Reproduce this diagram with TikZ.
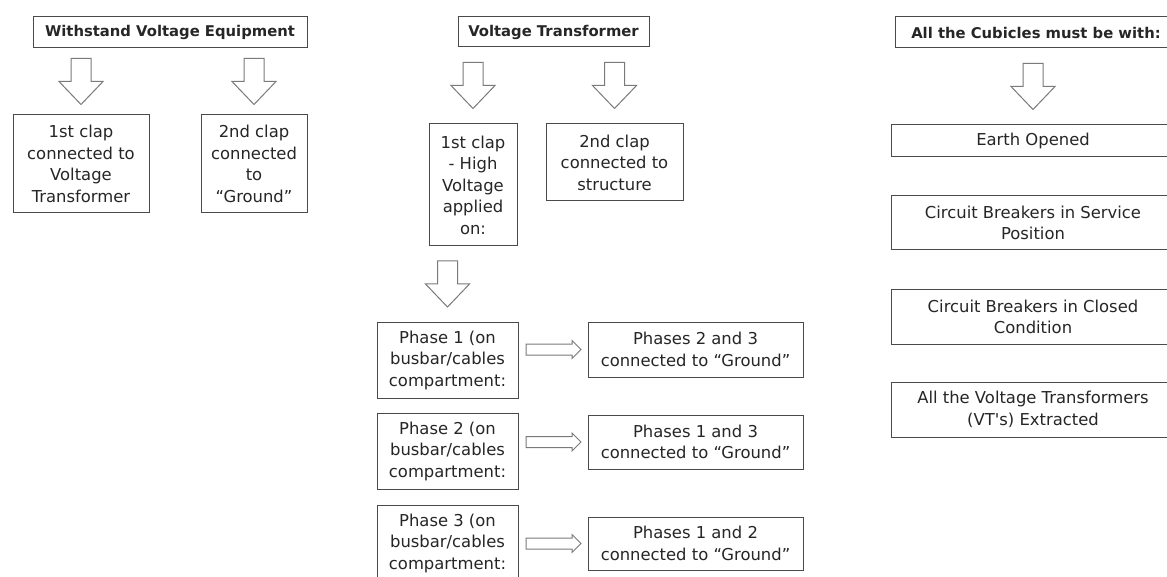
\documentclass[tikz,border=0pt]{standalone}
\usepackage{fontspec}
\setmainfont{DejaVu Sans}
\usetikzlibrary{calc,positioning}
\definecolor{boxline}{HTML}{4A4A4A}
\definecolor{arrline}{HTML}{7A7A7A}
\newcommand{\downblock}[2]{%
  \coordinate (m) at ($(#1.south -| #2.north)!.5!(#2.north)$);
  \draw[blockarr] (m) ++(-10,-23) -- ++(20,0) -- ++(0,23) -- ++(12,0) -- ++(-22,23)
    -- ++(-22,-23) -- ++(12,0) -- cycle;}
\newcommand{\rightblock}[2]{%
  \coordinate (m) at ($(#1.east |- #2.west)!.5!(#2.west)$);
  \draw[blockarr] (m) ++(-27,-5.5) -- ++(46,0) -- ++(0,-3.5) -- ++(9,9) -- ++(-9,9)
    -- ++(0,-3.5) -- ++(-46,0) -- cycle;}

\begin{document}
\begin{tikzpicture}[x=1pt,y=-1pt,
    box/.style={draw=boxline, line width=1pt, align=center, inner sep=1pt,
      text=black!85, font=\fontsize{16.4}{21.5}\selectfont},
    head/.style={box, font=\fontsize{14.8}{18}\selectfont\bfseries},
    blockarr/.style={draw=arrline, line width=1pt, fill=white, line join=miter}
  ]
  \clip (0,0) rectangle (1167,577);
  \fill[white] (0,0) rectangle (1167,577);

  \node[head, minimum width=274pt, minimum height=31pt] (wv) at (170,32.5) {Withstand Voltage Equipment};
  \node[box, minimum width=136pt, minimum height=98pt] (wv1) at (81,164) {1st clap\\connected to\\Voltage\\Transformer};
  \node[box, minimum width=106pt, minimum height=98pt] (wv2) at (254,164) {2nd clap\\connected\\to\\“Ground”};
  \downblock{wv}{wv1}
  \downblock{wv}{wv2}

  \node[head, minimum width=191pt, minimum height=30pt] (vt) at (553.5,32) {Voltage Transformer};
  \node[box, minimum width=88pt, minimum height=122pt] (vt1) at (473,185) {1st clap\\- High\\Voltage\\applied\\on:};
  \node[box, minimum width=137pt, minimum height=77pt] (vt2) at (614.5,162.5) {2nd clap\\connected to\\structure};
  \downblock{vt}{vt1}
  \downblock{vt}{vt2}

  \node[box, minimum width=141pt, minimum height=76pt] (ph1) at (447.5,360) {Phase 1 (on\\busbar/cables\\compartment:};
  \node[box, minimum width=141pt, minimum height=76pt] (ph2) at (447.5,451) {Phase 2 (on\\busbar/cables\\compartment:};
  \node[box, minimum width=141pt, minimum height=76pt] (ph3) at (447.5,543) {Phase 3 (on\\busbar/cables\\compartment:};
  \node[box, minimum width=215pt, minimum height=55pt] (gr1) at (695.5,349.5) {Phases 2 and 3\\connected to “Ground”};
  \node[box, minimum width=215pt, minimum height=54pt] (gr2) at (695.5,442) {Phases 1 and 3\\connected to “Ground”};
  \node[box, minimum width=215pt, minimum height=53pt] (gr3) at (695.5,543.5) {Phases 1 and 2\\connected to “Ground”};
  \downblock{vt1}{ph1}
  \rightblock{ph1}{gr1}
  \rightblock{ph2}{gr2}
  \rightblock{ph3}{gr3}

  \node[head, minimum width=282pt, minimum height=31pt] (cb) at (1036,32.5) {All the Cubicles must be with:};
  \node[box, minimum width=284pt, minimum height=32pt] (cb1) at (1033,141) {Earth Opened};
  \node[box, minimum width=284pt, minimum height=54pt] (cb2) at (1033,223) {Circuit Breakers in Service\\Position};
  \node[box, minimum width=284pt, minimum height=54pt] (cb3) at (1033,317) {Circuit Breakers in Closed\\Condition};
  \node[box, minimum width=284pt, minimum height=55pt] (cb4) at (1033,409.5) {All the Voltage Transformers\\(VT\textquotesingle s) Extracted};
  \downblock{cb}{cb1}
\end{tikzpicture}
\end{document}
